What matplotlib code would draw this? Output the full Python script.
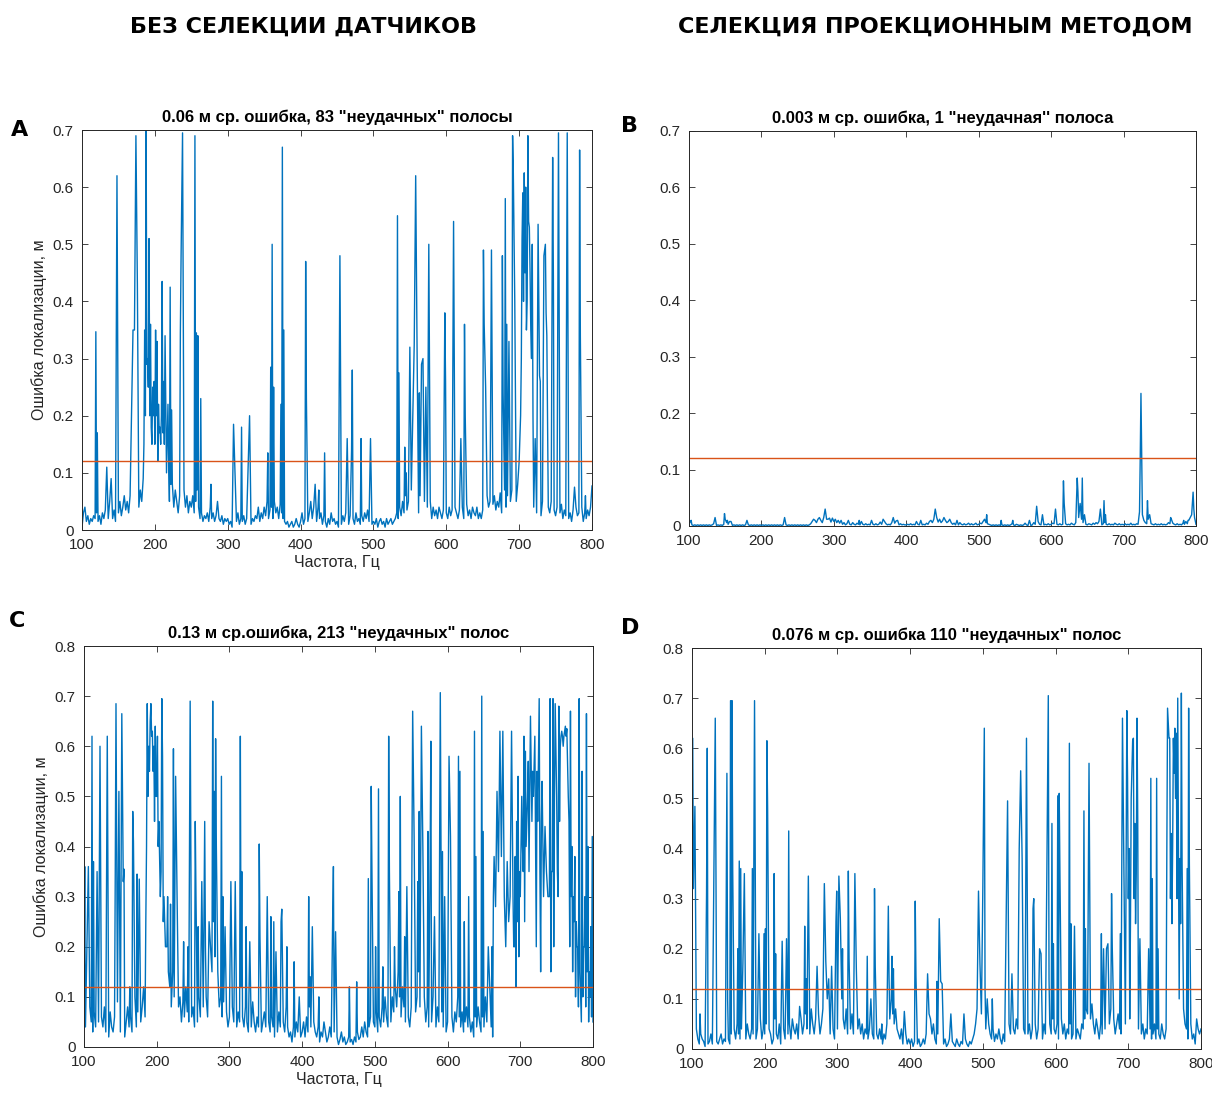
import matplotlib
matplotlib.use('Agg')
import matplotlib.pyplot as plt

plt.rcParams['font.family'] = ['Liberation Sans', 'DejaVu Sans']

# фон (шумовая полка) с шагом 2 Гц: 100, 102, ..., 800
base_freq = list(range(100, 801, 2))

# --- A: без селекции датчиков, ошибка до 0.7 м ---
a_base = [0.005, 0.03, 0.04, 0.015, 0.025, 0.01, 0.02, 0.015, 0.025, 0.02,
          0.03, 0.015, 0.025, 0.01, 0.03, 0.02, 0.035, 0.04, 0.02, 0.05,
          0.03, 0.02, 0.035, 0.015, 0.04, 0.03, 0.05, 0.025, 0.04, 0.06,
          0.035, 0.05, 0.03, 0.06, 0.045, 0.07, 0.05, 0.08, 0.06, 0.04,
          0.07, 0.05, 0.09, 0.06, 0.12, 0.08, 0.14, 0.1, 0.16, 0.09,
          0.13, 0.07, 0.11, 0.15, 0.06, 0.12, 0.09, 0.14, 0.06, 0.1,
          0.05, 0.08, 0.06, 0.04, 0.07, 0.05, 0.03, 0.06, 0.04, 0.05,
          0.07, 0.04, 0.06, 0.03, 0.05, 0.04, 0.06, 0.03, 0.05, 0.07,
          0.04, 0.02, 0.03, 0.015, 0.025, 0.02, 0.03, 0.015, 0.04, 0.02,
          0.03, 0.015, 0.025, 0.05, 0.02, 0.015, 0.025, 0.01, 0.02, 0.015,
          0.02, 0.01, 0.015, 0.005, 0.02, 0.01, 0.015, 0.03, 0.01, 0.02,
          0.015, 0.025, 0.01, 0.02, 0.015, 0.03, 0.01, 0.02, 0.015, 0.025,
          0.02, 0.04, 0.015, 0.03, 0.02, 0.04, 0.025, 0.05, 0.02, 0.035,
          0.04, 0.02, 0.05, 0.03, 0.04, 0.02, 0.045, 0.03, 0.02, 0.015,
          0.01, 0.015, 0.005, 0.01, 0.015, 0.005, 0.01, 0.02, 0.01, 0.005,
          0.015, 0.03, 0.01, 0.02, 0.04, 0.015, 0.03, 0.05, 0.02, 0.04,
          0.03, 0.015, 0.04, 0.02, 0.03, 0.01, 0.025, 0.015, 0.005, 0.02,
          0.01, 0.03, 0.015, 0.02, 0.01, 0.015, 0.005, 0.02, 0.01, 0.025,
          0.015, 0.03, 0.02, 0.01, 0.025, 0.015, 0.02, 0.01, 0.03, 0.015,
          0.02, 0.01, 0.025, 0.015, 0.03, 0.02, 0.035, 0.015, 0.02, 0.01,
          0.015, 0.01, 0.02, 0.005, 0.015, 0.02, 0.01, 0.015, 0.005, 0.02,
          0.01, 0.015, 0.02, 0.01, 0.015, 0.02, 0.03, 0.02, 0.04, 0.025,
          0.05, 0.03, 0.06, 0.035, 0.05, 0.03, 0.07, 0.04, 0.06, 0.03,
          0.05, 0.03, 0.06, 0.04, 0.03, 0.05, 0.02, 0.04, 0.03, 0.05,
          0.02, 0.04, 0.025, 0.035, 0.02, 0.04, 0.03, 0.02, 0.035, 0.025,
          0.03, 0.02, 0.04, 0.025, 0.035, 0.02, 0.04, 0.03, 0.02, 0.035,
          0.025, 0.04, 0.02, 0.03, 0.045, 0.025, 0.035, 0.02, 0.04, 0.03,
          0.025, 0.04, 0.02, 0.03, 0.02, 0.035, 0.05, 0.03, 0.06, 0.04,
          0.05, 0.03, 0.045, 0.06, 0.035, 0.05, 0.04, 0.065, 0.03, 0.05,
          0.07, 0.04, 0.06, 0.08, 0.05, 0.07, 0.04, 0.06, 0.05, 0.08,
          0.06, 0.1, 0.08, 0.12, 0.07, 0.1, 0.06, 0.09, 0.05, 0.08,
          0.04, 0.06, 0.03, 0.05, 0.04, 0.025, 0.05, 0.03, 0.045, 0.02,
          0.04, 0.03, 0.05, 0.02, 0.035, 0.025, 0.04, 0.02, 0.03, 0.045,
          0.02, 0.035, 0.025, 0.04, 0.02, 0.03, 0.015, 0.035, 0.02, 0.04,
          0.025, 0.03, 0.02, 0.04, 0.015, 0.03, 0.02, 0.035, 0.025, 0.04,
          0.077]
a_peak_f = [119, 121, 134, 140, 148, 149, 168, 170, 172, 174, 176, 186, 188, 189, 192, 194, 197, 199, 201, 203, 206, 210, 212,
            214, 218, 221, 223, 235, 236, 238, 255, 257, 259, 263, 277, 308, 310, 319, 328, 330, 355, 359, 361, 363, 373, 375,
            377, 407, 408, 420, 425, 433, 453, 454, 464, 470, 471, 483, 496, 533, 535, 543, 545, 550, 554, 556, 558, 560, 563,
            566, 568, 572, 575, 576, 598, 599, 609, 610, 620, 625, 626, 651, 652, 654, 661, 662, 677, 678, 681, 683, 686, 691,
            692, 694, 704, 705, 707, 709, 712, 713, 714, 718, 722, 726, 728, 729, 734, 736, 737, 738, 746, 747, 753, 754, 765,
            766, 776, 783, 784, 791,
            185, 187, 190, 191, 193, 195, 196, 198, 200, 202, 204, 205, 207, 208, 209, 211, 213, 216, 219, 224,
            700, 702, 703, 706, 708, 710, 711, 715, 716, 717, 719]
a_peak_v = [0.347, 0.17, 0.11, 0.09, 0.62, 0.31, 0.205, 0.35, 0.35, 0.69, 0.43, 0.35, 0.70, 0.29, 0.51, 0.36, 0.25, 0.26, 0.35,
            0.33, 0.17, 0.435, 0.26, 0.34, 0.22, 0.425, 0.21, 0.345, 0.48, 0.695, 0.69, 0.345, 0.34, 0.23, 0.08, 0.185, 0.10,
            0.18, 0.11, 0.2, 0.135, 0.285, 0.5, 0.25, 0.22, 0.67, 0.35, 0.47, 0.23, 0.08, 0.07, 0.135, 0.25, 0.48, 0.16, 0.14,
            0.28, 0.16, 0.16, 0.55, 0.275, 0.145, 0.1, 0.32, 0.2, 0.325, 0.62, 0.3, 0.24, 0.29, 0.3, 0.25, 0.27, 0.5, 0.38,
            0.26, 0.29, 0.54, 0.16, 0.36, 0.2, 0.49, 0.36, 0.25, 0.25, 0.49, 0.48, 0.24, 0.58, 0.36, 0.33, 0.69, 0.625, 0.4,
            0.51, 0.59, 0.625, 0.6, 0.69, 0.54, 0.53, 0.5, 0.16, 0.535, 0.27, 0.26, 0.48, 0.5, 0.38, 0.34, 0.652, 0.44, 0.35,
            0.695, 0.38, 0.695, 0.075, 0.665, 0.34, 0.06,
            0.15, 0.2, 0.3, 0.25, 0.2, 0.18, 0.15, 0.2, 0.15, 0.2, 0.12, 0.22, 0.18, 0.15, 0.2, 0.17, 0.15, 0.1, 0.12, 0.08,
            0.12, 0.2, 0.3, 0.4, 0.45, 0.35, 0.4, 0.45, 0.35, 0.3, 0.2]

# --- B: селекция проекционным методом ---
b_base = [0.003, 0.008, 0.002, 0.001, 0.002, 0.001, 0.002, 0.001, 0.002, 0.001,
          0.002, 0.001, 0.002, 0.001, 0.002, 0.001, 0.002, 0.004, 0.002, 0.001,
          0.002, 0.001, 0.002, 0.001, 0.003, 0.012, 0.006, 0.003, 0.008, 0.002,
          0.001, 0.002, 0.001, 0.002, 0.001, 0.002, 0.001, 0.002, 0.001, 0.002,
          0.001, 0.002, 0.001, 0.002, 0.001, 0.002, 0.001, 0.002, 0.001, 0.002,
          0.001, 0.002, 0.001, 0.002, 0.001, 0.002, 0.001, 0.002, 0.001, 0.002,
          0.001, 0.002, 0.001, 0.002, 0.001, 0.002, 0.003, 0.002, 0.001, 0.002,
          0.001, 0.002, 0.001, 0.002, 0.001, 0.002, 0.001, 0.002, 0.001, 0.002,
          0.001, 0.002, 0.001, 0.002, 0.004, 0.008, 0.005, 0.01, 0.006, 0.012,
          0.008, 0.01, 0.006, 0.015, 0.009, 0.012, 0.008, 0.014, 0.007, 0.01,
          0.008, 0.012, 0.006, 0.01, 0.005, 0.008, 0.003, 0.006, 0.002, 0.004,
          0.002, 0.003, 0.002, 0.006, 0.003, 0.002, 0.005, 0.003, 0.002, 0.008,
          0.003, 0.002, 0.004, 0.002, 0.003, 0.002, 0.006, 0.003, 0.002, 0.004,
          0.002, 0.003, 0.007, 0.003, 0.002, 0.008, 0.004, 0.002, 0.003, 0.002,
          0.006, 0.012, 0.005, 0.009, 0.003, 0.002, 0.004, 0.002, 0.003, 0.002,
          0.002, 0.003, 0.002, 0.004, 0.002, 0.003, 0.002, 0.008, 0.003, 0.002,
          0.004, 0.002, 0.003, 0.002, 0.005, 0.003, 0.008, 0.01, 0.006, 0.012,
          0.008, 0.01, 0.007, 0.012, 0.006, 0.009, 0.005, 0.01, 0.006, 0.008,
          0.004, 0.006, 0.003, 0.005, 0.002, 0.004, 0.002, 0.006, 0.003, 0.002,
          0.004, 0.002, 0.003, 0.005, 0.002, 0.004, 0.002, 0.003, 0.005, 0.002,
          0.003, 0.005, 0.004, 0.008, 0.012, 0.006, 0.004, 0.003, 0.002, 0.001,
          0.002, 0.001, 0.002, 0.001, 0.002, 0.001, 0.002, 0.001, 0.002, 0.001,
          0.002, 0.001, 0.002, 0.004, 0.002, 0.001, 0.003, 0.002, 0.001, 0.002,
          0.001, 0.002, 0.005, 0.002, 0.001, 0.002, 0.001, 0.002, 0.006, 0.003,
          0.002, 0.008, 0.003, 0.002, 0.004, 0.002, 0.003, 0.002, 0.004, 0.002,
          0.003, 0.005, 0.004, 0.01, 0.003, 0.002, 0.004, 0.002, 0.003, 0.002,
          0.004, 0.002, 0.003, 0.002, 0.005, 0.003, 0.002, 0.006, 0.01, 0.015,
          0.008, 0.012, 0.006, 0.004, 0.003, 0.002, 0.004, 0.003, 0.002, 0.005,
          0.003, 0.006, 0.004, 0.008, 0.003, 0.002, 0.004, 0.006, 0.003, 0.002,
          0.004, 0.002, 0.003, 0.002, 0.005, 0.003, 0.002, 0.004, 0.002, 0.003,
          0.002, 0.004, 0.002, 0.003, 0.002, 0.005, 0.002, 0.003, 0.002, 0.004,
          0.003, 0.015, 0.008, 0.02, 0.01, 0.006, 0.004, 0.012, 0.006, 0.004,
          0.003, 0.002, 0.004, 0.002, 0.003, 0.002, 0.004, 0.002, 0.003, 0.002,
          0.003, 0.006, 0.004, 0.012, 0.005, 0.003, 0.002, 0.004, 0.002, 0.003,
          0.002, 0.005, 0.003, 0.008, 0.004, 0.01, 0.015, 0.02, 0.012, 0.015,
          0.003]
b_peak_f = [103, 136, 149, 153, 158, 180, 232, 272, 280, 288, 292, 298, 310, 320, 335, 352, 368, 382, 388, 420, 440, 442, 452,
            460, 470, 511, 531, 547, 570, 580, 588, 606, 617, 618, 636, 637, 640, 643, 646, 668, 673, 675, 722, 723, 724, 725,
            733, 736, 765, 783, 789, 796, 797]
b_peak_v = [0.01, 0.015, 0.022, 0.01, 0.008, 0.01, 0.015, 0.012, 0.015, 0.03, 0.012, 0.014, 0.01, 0.01, 0.01, 0.01, 0.012,
            0.015, 0.01, 0.01, 0.03, 0.015, 0.015, 0.012, 0.01, 0.02, 0.01, 0.01, 0.01, 0.035, 0.02, 0.03, 0.08, 0.04, 0.085,
            0.06, 0.04, 0.085, 0.02, 0.03, 0.045, 0.02, 0.025, 0.12, 0.235, 0.12, 0.045, 0.02, 0.015, 0.01, 0.01, 0.06, 0.03]

# --- C: без селекции, ошибка до 0.8 м ---
c_base = [0.1, 0.04, 0.06, 0.03, 0.08, 0.05, 0.03, 0.07, 0.04, 0.1,
          0.05, 0.02, 0.06, 0.04, 0.08, 0.03, 0.05, 0.02, 0.07, 0.04,
          0.03, 0.06, 0.04, 0.09, 0.05, 0.03, 0.06, 0.04, 0.02, 0.05,
          0.08, 0.04, 0.06, 0.03, 0.05, 0.1, 0.04, 0.07, 0.03, 0.05,
          0.08, 0.12, 0.06, 0.1, 0.15, 0.3, 0.2, 0.35, 0.25, 0.3,
          0.25, 0.35, 0.2, 0.3, 0.15, 0.25, 0.1, 0.2, 0.15, 0.12,
          0.08, 0.15, 0.1, 0.06, 0.12, 0.08, 0.1, 0.05, 0.09, 0.06,
          0.12, 0.07, 0.05, 0.1, 0.06, 0.08, 0.04, 0.07, 0.05, 0.1,
          0.06, 0.04, 0.08, 0.05, 0.1, 0.06, 0.12, 0.2, 0.15, 0.25,
          0.18, 0.12, 0.15, 0.08, 0.1, 0.06, 0.09, 0.05, 0.07, 0.04,
          0.06, 0.03, 0.08, 0.05, 0.1, 0.04, 0.07, 0.05, 0.12, 0.06,
          0.04, 0.08, 0.05, 0.03, 0.07, 0.04, 0.09, 0.05, 0.03, 0.06,
          0.04, 0.08, 0.03, 0.05, 0.07, 0.04, 0.1, 0.05, 0.03, 0.06,
          0.04, 0.02, 0.05, 0.03, 0.07, 0.04, 0.02, 0.05, 0.03, 0.08,
          0.04, 0.02, 0.03, 0.01, 0.04, 0.02, 0.05, 0.03, 0.01, 0.02,
          0.03, 0.05, 0.02, 0.06, 0.03, 0.08, 0.04, 0.02, 0.05, 0.03,
          0.02, 0.04, 0.01, 0.03, 0.02, 0.05, 0.03, 0.01, 0.02, 0.04,
          0.02, 0.015, 0.03, 0.01, 0.02, 0.005, 0.015, 0.03, 0.01, 0.02,
          0.005, 0.01, 0.02, 0.01, 0.015, 0.005, 0.02, 0.01, 0.03, 0.015,
          0.02, 0.04, 0.02, 0.05, 0.03, 0.02, 0.04, 0.06, 0.03, 0.05,
          0.04, 0.07, 0.03, 0.06, 0.04, 0.08, 0.05, 0.1, 0.06, 0.04,
          0.08, 0.05, 0.1, 0.07, 0.12, 0.08, 0.15, 0.1, 0.06, 0.12,
          0.08, 0.05, 0.1, 0.06, 0.04, 0.08, 0.05, 0.12, 0.07, 0.1,
          0.15, 0.08, 0.12, 0.06, 0.1, 0.05, 0.08, 0.04, 0.07, 0.05,
          0.1, 0.06, 0.04, 0.08, 0.05, 0.12, 0.07, 0.04, 0.06, 0.03,
          0.05, 0.08, 0.04, 0.06, 0.03, 0.07, 0.05, 0.1, 0.06, 0.04,
          0.07, 0.03, 0.05, 0.08, 0.04, 0.06, 0.03, 0.05, 0.02, 0.06,
          0.04, 0.08, 0.05, 0.03, 0.06, 0.04, 0.1, 0.05, 0.03, 0.07,
          0.04, 0.02, 0.05, 0.03, 0.06, 0.04, 0.08, 0.05, 0.1, 0.15,
          0.08, 0.2, 0.12, 0.25, 0.15, 0.3, 0.2, 0.12, 0.25, 0.18,
          0.3, 0.2, 0.35, 0.25, 0.4, 0.3, 0.2, 0.35, 0.25, 0.15,
          0.3, 0.2, 0.4, 0.25, 0.15, 0.3, 0.2, 0.35, 0.12, 0.25,
          0.3, 0.15, 0.35, 0.2, 0.4, 0.25, 0.3, 0.45, 0.35, 0.5,
          0.4, 0.55, 0.45, 0.3, 0.2, 0.3, 0.15, 0.25, 0.1, 0.2,
          0.08, 0.15, 0.05, 0.1, 0.2, 0.08, 0.15, 0.05, 0.1, 0.06,
          0.05]
c_peak_f = [101, 104, 106, 111, 113, 118, 121, 122, 131, 132, 143, 144, 148, 152, 154, 155, 163, 167, 168, 173, 176, 186, 187,
            189, 192, 194, 196, 198, 199, 201, 204, 207, 208, 215, 219, 223, 226, 228, 237, 243, 246, 247, 253, 254, 257, 262,
            266, 267, 272, 277, 279, 281, 282, 289, 291, 294, 302, 308, 315, 317, 323, 328, 341, 342, 352, 357, 361, 364, 371,
            372, 379, 389, 396, 409, 411, 414, 423, 442, 443, 446, 465, 475, 491, 495, 496, 501, 505, 511, 519, 520, 527, 533,
            535, 541, 544, 552, 554, 559, 561, 564, 566, 573, 576, 577, 582, 590, 593, 596, 602, 604, 615, 617, 623, 629, 637,
            639, 647, 649, 656, 658, 664, 668, 672, 674, 676, 682, 688, 693, 697, 705, 707, 711, 714, 717, 720, 726, 730, 734,
            741, 745, 748, 753, 757, 758, 762, 764, 769, 775, 781, 785, 791, 793, 797,
            690, 695, 699, 702, 703, 709, 710, 712, 716, 718, 721, 723, 724, 727, 729, 732, 736, 738, 743, 747, 750, 751, 755,
            756, 759, 760, 761, 763, 766, 767, 771, 773, 777, 779, 787, 789, 795, 799, 185, 188, 190, 191, 193, 195, 197, 200,
            202, 203, 205, 206, 209, 210, 212, 661, 663, 666, 670, 678, 680, 684, 686, 691]
c_peak_v = [0.36, 0.2, 0.36, 0.62, 0.37, 0.35, 0.31, 0.6, 0.32, 0.62, 0.35, 0.685, 0.51, 0.665, 0.33, 0.355, 0.12, 0.47, 0.41,
            0.345, 0.335, 0.4, 0.685, 0.6, 0.685, 0.63, 0.6, 0.64, 0.5, 0.62, 0.38, 0.695, 0.58, 0.3, 0.285, 0.595, 0.54, 0.3,
            0.21, 0.2, 0.69, 0.36, 0.45, 0.3, 0.24, 0.33, 0.45, 0.2, 0.25, 0.69, 0.51, 0.615, 0.4, 0.54, 0.3, 0.24, 0.33, 0.33,
            0.62, 0.35, 0.24, 0.21, 0.405, 0.22, 0.3, 0.26, 0.25, 0.19, 0.25, 0.275, 0.2, 0.17, 0.1, 0.3, 0.14, 0.24, 0.1, 0.26,
            0.36, 0.23, 0.12, 0.13, 0.336, 0.52, 0.35, 0.2, 0.515, 0.16, 0.62, 0.35, 0.2, 0.31, 0.5, 0.22, 0.32, 0.67, 0.42,
            0.33, 0.47, 0.64, 0.4, 0.43, 0.37, 0.61, 0.26, 0.707, 0.39, 0.3, 0.58, 0.42, 0.58, 0.55, 0.25, 0.3, 0.63, 0.38, 0.7,
            0.43, 0.2, 0.12, 0.38, 0.51, 0.63, 0.38, 0.63, 0.37, 0.63, 0.38, 0.54, 0.62, 0.59, 0.57, 0.66, 0.55, 0.62, 0.695,
            0.53, 0.44, 0.695, 0.695, 0.685, 0.68, 0.63, 0.62, 0.64, 0.635, 0.67, 0.38, 0.695, 0.55, 0.665, 0.4, 0.24,
            0.3, 0.45, 0.35, 0.5, 0.4, 0.45, 0.5, 0.35, 0.45, 0.5, 0.4, 0.55, 0.45, 0.35, 0.45, 0.3, 0.35, 0.3, 0.35, 0.5,
            0.5, 0.35, 0.6, 0.62, 0.6, 0.62, 0.63, 0.62, 0.5, 0.45, 0.4, 0.3, 0.25, 0.2, 0.2, 0.3, 0.15, 0.42, 0.25, 0.5,
            0.55, 0.65, 0.62, 0.55, 0.45, 0.5, 0.4, 0.45, 0.3, 0.35, 0.25, 0.3, 0.2, 0.2, 0.3, 0.28, 0.35, 0.3, 0.2, 0.25,
            0.3, 0.2]

# --- D: селекция проекционным методом, ошибка до 0.8 м ---
d_base = [0.3, 0.15, 0.08, 0.04, 0.02, 0.01, 0.03, 0.02, 0.015, 0.005,
          0.02, 0.01, 0.015, 0.03, 0.01, 0.02, 0.005, 0.015, 0.01, 0.02,
          0.03, 0.01, 0.02, 0.015, 0.04, 0.02, 0.01, 0.03, 0.02, 0.04,
          0.02, 0.05, 0.03, 0.02, 0.04, 0.01, 0.03, 0.02, 0.05, 0.03,
          0.02, 0.04, 0.03, 0.05, 0.02, 0.04, 0.03, 0.06, 0.02, 0.04,
          0.03, 0.05, 0.02, 0.04, 0.03, 0.01, 0.02, 0.06, 0.03, 0.02,
          0.05, 0.01, 0.02, 0.04, 0.02, 0.005, 0.03, 0.05, 0.02, 0.06,
          0.04, 0.03, 0.05, 0.02, 0.04, 0.06, 0.03, 0.05, 0.07, 0.04,
          0.06, 0.03, 0.08, 0.05, 0.03, 0.06, 0.04, 0.07, 0.03, 0.05,
          0.08, 0.04, 0.06, 0.1, 0.05, 0.03, 0.07, 0.04, 0.02, 0.05,
          0.04, 0.08, 0.05, 0.1, 0.06, 0.04, 0.08, 0.03, 0.06, 0.04,
          0.07, 0.03, 0.05, 0.08, 0.04, 0.06, 0.03, 0.05, 0.02, 0.04,
          0.03, 0.02, 0.04, 0.01, 0.03, 0.02, 0.01, 0.03, 0.02, 0.04,
          0.02, 0.01, 0.03, 0.02, 0.05, 0.08, 0.06, 0.1, 0.07, 0.05,
          0.08, 0.04, 0.03, 0.02, 0.04, 0.01, 0.02, 0.03, 0.01, 0.02,
          0.01, 0.02, 0.005, 0.015, 0.03, 0.01, 0.02, 0.005, 0.01, 0.02,
          0.01, 0.03, 0.02, 0.04, 0.06, 0.03, 0.05, 0.02, 0.01, 0.03,
          0.02, 0.05, 0.03, 0.01, 0.02, 0.005, 0.01, 0.02, 0.005, 0.015,
          0.01, 0.005, 0.02, 0.01, 0.005, 0.015, 0.01, 0.005, 0.02, 0.01,
          0.005, 0.015, 0.01, 0.02, 0.03, 0.05, 0.08, 0.06, 0.1, 0.07,
          0.08, 0.06, 0.04, 0.1, 0.05, 0.03, 0.02, 0.04, 0.015, 0.03,
          0.02, 0.04, 0.02, 0.01, 0.03, 0.015, 0.04, 0.02, 0.05, 0.03,
          0.02, 0.04, 0.03, 0.06, 0.04, 0.02, 0.05, 0.08, 0.04, 0.03,
          0.06, 0.03, 0.05, 0.02, 0.04, 0.03, 0.05, 0.02, 0.04, 0.06,
          0.03, 0.02, 0.05, 0.03, 0.04, 0.02, 0.05, 0.03, 0.06, 0.04,
          0.03, 0.05, 0.02, 0.04, 0.06, 0.03, 0.05, 0.02, 0.04, 0.03,
          0.05, 0.02, 0.03, 0.05, 0.02, 0.04, 0.03, 0.02, 0.05, 0.04,
          0.06, 0.08, 0.07, 0.1, 0.06, 0.09, 0.05, 0.03, 0.06, 0.04,
          0.02, 0.05, 0.03, 0.07, 0.04, 0.06, 0.03, 0.05, 0.08, 0.04,
          0.06, 0.03, 0.05, 0.07, 0.04, 0.03, 0.06, 0.1, 0.05, 0.08,
          0.1, 0.06, 0.12, 0.08, 0.15, 0.06, 0.1, 0.04, 0.06, 0.03,
          0.05, 0.02, 0.04, 0.03, 0.02, 0.04, 0.02, 0.03, 0.05, 0.02,
          0.04, 0.03, 0.02, 0.05, 0.03, 0.02, 0.04, 0.03, 0.02, 0.06,
          0.15, 0.25, 0.12, 0.3, 0.2, 0.1, 0.25, 0.15, 0.08, 0.05,
          0.04, 0.02, 0.03, 0.05, 0.02, 0.03, 0.01, 0.02, 0.04, 0.03,
          0.04]
d_peak_f = [101, 102, 104, 105, 111, 120, 121, 130, 132, 133, 147, 148, 149, 153, 155, 156, 163, 165, 167, 170, 172, 183, 186,
            187, 192, 199, 201, 203, 204, 213, 215, 224, 230, 233, 248, 255, 257, 260, 261, 272, 282, 284, 288, 292, 298, 299,
            302, 304, 307, 315, 316, 323, 324, 326, 341, 346, 351, 352, 361, 370, 371, 375, 377, 392, 407, 408, 424, 426, 437,
            440, 442, 444, 456, 474, 494, 496, 500, 502, 503, 513, 532, 534, 540, 550, 552, 554, 560, 561, 569, 570, 578, 580,
            588, 590, 591, 595, 597, 603, 605, 606, 619, 621, 626, 639, 641, 646, 647, 663, 666, 670, 672, 677, 678, 689, 692,
            694, 698, 699, 706, 707, 712, 713, 716, 728, 731, 733, 739, 741, 753, 754, 756, 757, 759, 762, 764, 766, 768, 771,
            773, 774, 781, 783, 784, 794,
            758, 760, 761, 763, 765, 767, 700, 701, 703, 704, 708, 709, 710, 711]
d_peak_v = [0.62, 0.32, 0.484, 0.26, 0.07, 0.31, 0.6, 0.33, 0.66, 0.335, 0.28, 0.55, 0.1, 0.695, 0.695, 0.355, 0.2, 0.375,
            0.36, 0.17, 0.35, 0.36, 0.695, 0.35, 0.23, 0.23, 0.24, 0.615, 0.48, 0.35, 0.19, 0.215, 0.22, 0.435, 0.085, 0.245,
            0.14, 0.345, 0.185, 0.165, 0.33, 0.175, 0.14, 0.165, 0.255, 0.315, 0.345, 0.26, 0.2, 0.355, 0.18, 0.18, 0.35, 0.16,
            0.185, 0.1, 0.32, 0.165, 0.05, 0.285, 0.14, 0.185, 0.16, 0.075, 0.295, 0.145, 0.15, 0.07, 0.135, 0.26, 0.135, 0.13,
            0.07, 0.07, 0.315, 0.17, 0.325, 0.64, 0.12, 0.1, 0.25, 0.495, 0.15, 0.4, 0.555, 0.38, 0.62, 0.31, 0.28, 0.3, 0.2,
            0.19, 0.35, 0.705, 0.14, 0.45, 0.21, 0.505, 0.51, 0.35, 0.61, 0.25, 0.245, 0.475, 0.24, 0.57, 0.31, 0.23, 0.2, 0.2,
            0.21, 0.31, 0.2, 0.23, 0.66, 0.345, 0.675, 0.54, 0.615, 0.62, 0.66, 0.46, 0.22, 0.2, 0.54, 0.34, 0.54, 0.2, 0.39,
            0.68, 0.62, 0.62, 0.43, 0.62, 0.64, 0.63, 0.7, 0.38, 0.71, 0.37, 0.36, 0.68, 0.37, 0.06,
            0.3, 0.25, 0.4, 0.55, 0.5, 0.3, 0.3, 0.4, 0.25, 0.5, 0.3, 0.45, 0.25, 0.35]

threshold = 0.12

titles = ['0.06 м ср. ошибка, 83 "неудачных" полосы',
          '0.003 м ср. ошибка, 1 "неудачная\'\' полоса',
          '0.13 м ср.ошибка, 213 "неудачных" полос',
          '0.076 м ср. ошибка 110 "неудачных" полос']
letters = ['A', 'B', 'C', 'D']
ylims = [0.7, 0.7, 0.8, 0.8]
column_heads = ['БЕЗ СЕЛЕКЦИИ ДАТЧИКОВ', 'СЕЛЕКЦИЯ ПРОЕКЦИОННЫМ МЕТОДОМ']

W, H = 1212, 1094
# положение осей в пикселях: лево, верх, право, низ
boxes = [(82, 130, 592, 530), (689, 131, 1196, 526), (84, 646, 593, 1047), (692, 648, 1201, 1049)]
letter_pos = [(11, 130), (621, 126), (9, 621), (621, 628)]

bases = [a_base, b_base, c_base, d_base]
peaks = [(a_peak_f, a_peak_v), (b_peak_f, b_peak_v), (c_peak_f, c_peak_v), (d_peak_f, d_peak_v)]


def merge(base_v, peak_f, peak_v):
    # фон + отдельные выбросы в одну кривую, как её рисует plot
    assert len(base_v) == len(base_freq), len(base_v)
    pts = dict(zip(base_freq, base_v))
    pts.update(zip(peak_f, peak_v))
    f = sorted(pts)
    return f, [pts[k] for k in f]


fig = plt.figure(figsize=(W / 100, H / 100), dpi=100)
tick_col = '#262626'
blue = '#0072BD'

for i in range(4):
    l, t, r, b = boxes[i]
    ax = fig.add_axes([l / W, 1 - b / H, (r - l) / W, (b - t) / H])
    f, v = merge(bases[i], peaks[i][0], peaks[i][1])
    ax.plot(f, v, color=blue, lw=1.0)
    ax.axhline(threshold, color='#D95319', lw=1.0)
    ax.set_xlim(100, 800)
    ax.set_ylim(0, ylims[i])
    ax.set_xticks(range(100, 801, 100))
    n = int(round(ylims[i] * 10))
    ax.set_yticks([k / 10 for k in range(n + 1)])
    ax.set_yticklabels(['0'] + ['%.1f' % (k / 10) for k in range(1, n + 1)])
    ax.tick_params(direction='in', top=True, right=True, length=4, width=0.6,
                   labelsize=11, colors=tick_col, pad=6)
    for s in ax.spines.values():
        s.set_color(tick_col)
        s.set_linewidth(0.7)
    ax.set_title(titles[i], fontsize=12, fontweight='bold', pad=6)
    if i in (0, 2):
        ax.set_ylabel('Ошибка локализации, м', fontsize=11.5, color=tick_col)
        ax.set_xlabel('Частота, Гц', fontsize=11.5, color=tick_col, labelpad=2)
    fig.text(letter_pos[i][0] / W, 1 - letter_pos[i][1] / H, letters[i],
             fontsize=16, fontweight='heavy', family='DejaVu Sans', ha='left', va='center')

fig.text(303 / W, 1 - 27 / H, column_heads[0], fontsize=16, fontweight='heavy',
         family='DejaVu Sans', ha='center', va='center')
fig.text(935 / W, 1 - 27 / H, column_heads[1], fontsize=16, fontweight='heavy',
         family='DejaVu Sans', ha='center', va='center')

fig.savefig('out.png', dpi=100)
